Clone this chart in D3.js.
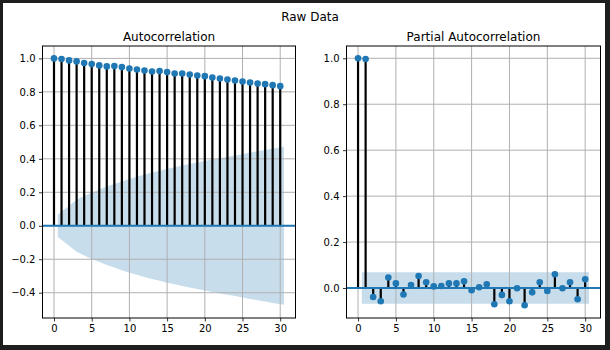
<!DOCTYPE html>
<html>
<head>
<meta charset="utf-8">
<script src="https://cdn.jsdelivr.net/npm/d3@7"></script>
<style>
  body { margin: 0; background: #1e1e1e; }
  svg { display: block; font-family: "DejaVu Sans", sans-serif; }
</style>
</head>
<body>
<div id="chart"></div>
<script>
// lags 0..30
const lags = d3.range(0, 31);

// autocorrelation values
const acfValues = [1.0, 0.996, 0.988, 0.982, 0.972, 0.966, 0.958, 0.952, 0.954, 0.948,
  0.94, 0.934, 0.928, 0.922, 0.924, 0.918, 0.91, 0.91, 0.904, 0.898,
  0.894, 0.886, 0.88, 0.874, 0.868, 0.862, 0.856, 0.85, 0.846, 0.84, 0.834];

// half width of the acf confidence band, lags 1..30
const acfBand = [0.067, 0.12, 0.155, 0.178, 0.198, 0.217, 0.235, 0.25, 0.265, 0.28,
  0.293, 0.306, 0.318, 0.329, 0.34, 0.35, 0.36, 0.369, 0.378, 0.387,
  0.396, 0.404, 0.412, 0.42, 0.428, 0.437, 0.445, 0.453, 0.462, 0.472];

// partial autocorrelation values
const pacfValues = [1.0, 0.997, -0.039, -0.058, 0.046, 0.02, -0.028, 0.013, 0.052, 0.025,
  0.007, 0.009, 0.02, 0.02, 0.029, -0.01, 0.003, 0.016, -0.071, -0.03,
  -0.058, -0.001, -0.075, -0.019, 0.025, -0.013, 0.06, -0.001, 0.025, -0.049, 0.038];

// pacf confidence band half width, lags 1..30
const pacfBand = [0.069, 0.069, 0.069, 0.069, 0.069, 0.069, 0.069, 0.069, 0.069, 0.069,
  0.069, 0.069, 0.069, 0.069, 0.069, 0.069, 0.069, 0.069, 0.069, 0.069,
  0.069, 0.069, 0.069, 0.069, 0.069, 0.069, 0.069, 0.069, 0.069, 0.069];

const xTicks = [0, 5, 10, 15, 20, 25, 30];
const acfYTicks = [-0.4, -0.2, 0.0, 0.2, 0.4, 0.6, 0.8, 1.0];
const pacfYTicks = [0.0, 0.2, 0.4, 0.6, 0.8, 1.0];

const W = 610, H = 350;
const blue = '#1f77b4';
const fmt = d => d3.format('.1f')(d).replace('-', '\u2212');

const svg = d3.select('#chart').append('svg')
  .attr('width', W)
  .attr('height', H);

// dark frame around the white figure
svg.append('rect').attr('width', W).attr('height', H).attr('fill', '#1e1e1e');
svg.append('rect').attr('x', 3).attr('y', 3).attr('width', 602).attr('height', 342).attr('fill', '#ffffff');

svg.append('text')
  .attr('x', 310).attr('y', 21)
  .attr('text-anchor', 'middle')
  .style('font-size', '12px')
  .style('fill', '#000')
  .text('Raw Data');

function drawPanel(opts) {
  const { left, right, top, bottom, values, band, yDomain, yTicks, title, id } = opts;

  const x = d3.scaleLinear().domain([-1.525, 32.025]).range([left, right]);
  const y = d3.scaleLinear().domain(yDomain).range([bottom, top]);

  const g = svg.append('g');

  g.append('clipPath').attr('id', id)
    .append('rect')
    .attr('x', left).attr('y', top)
    .attr('width', right - left).attr('height', bottom - top);

  const plot = g.append('g').attr('clip-path', `url(#${id})`);

  // confidence band, ends pushed out half a lag like statsmodels does
  const bandData = band.map((b, i) => {
    let lx = lags[i + 1];
    if (i === 0) lx -= 0.5;
    if (i === band.length - 1) lx += 0.5;
    return { x: lx, b: b };
  });
  plot.append('path')
    .datum(bandData)
    .attr('d', d3.area().x(d => x(d.x)).y0(d => y(-d.b)).y1(d => y(d.b)))
    .attr('fill', blue)
    .attr('fill-opacity', 0.25);

  // grid
  plot.selectAll('.vgrid').data(xTicks).join('line')
    .attr('x1', d => x(d)).attr('x2', d => x(d))
    .attr('y1', top).attr('y2', bottom)
    .attr('stroke', '#b0b0b0').attr('stroke-width', 1);
  plot.selectAll('.hgrid').data(yTicks).join('line')
    .attr('x1', left).attr('x2', right)
    .attr('y1', d => y(d)).attr('y2', d => y(d))
    .attr('stroke', '#b0b0b0').attr('stroke-width', 1);

  // stems
  plot.selectAll('.stem').data(values).join('line')
    .attr('x1', (d, i) => x(lags[i])).attr('x2', (d, i) => x(lags[i]))
    .attr('y1', y(0)).attr('y2', d => y(d))
    .attr('stroke', '#000').attr('stroke-width', 2.2);

  // zero line
  plot.append('line')
    .attr('x1', left).attr('x2', right)
    .attr('y1', y(0)).attr('y2', y(0))
    .attr('stroke', blue).attr('stroke-width', 2);

  // markers
  plot.selectAll('.dot').data(values).join('circle')
    .attr('cx', (d, i) => x(lags[i]))
    .attr('cy', d => y(d))
    .attr('r', 3.3)
    .attr('fill', blue);

  // axes
  const xAxis = g.append('g')
    .attr('transform', `translate(0,${bottom})`)
    .call(d3.axisBottom(x).tickValues(xTicks).tickSize(3.5).tickPadding(3.5).tickFormat(d3.format('d')));
  const yAxis = g.append('g')
    .attr('transform', `translate(${left},0)`)
    .call(d3.axisLeft(y).tickValues(yTicks).tickSize(3.5).tickPadding(3.5).tickFormat(fmt));

  [xAxis, yAxis].forEach(a => {
    a.select('.domain').remove();
    a.selectAll('.tick line').attr('stroke', '#000').attr('stroke-width', 0.8);
    a.selectAll('text')
      .style('font-family', '"DejaVu Sans", sans-serif')
      .style('font-size', '10px')
      .attr('fill', '#000');
  });

  // frame
  g.append('rect')
    .attr('x', left).attr('y', top)
    .attr('width', right - left).attr('height', bottom - top)
    .attr('fill', 'none')
    .attr('stroke', '#000')
    .attr('stroke-width', 1);

  g.append('text')
    .attr('x', (left + right) / 2).attr('y', top - 5)
    .attr('text-anchor', 'middle')
    .style('font-size', '12px')
    .style('fill', '#000')
    .text(title);
}

drawPanel({
  id: 'clip-acf',
  left: 42.5, right: 295.5, top: 46, bottom: 318,
  values: acfValues, band: acfBand,
  yDomain: [-0.551, 1.074], yTicks: acfYTicks,
  title: 'Autocorrelation'
});

drawPanel({
  id: 'clip-pacf',
  left: 346.5, right: 600.5, top: 46, bottom: 318,
  values: pacfValues, band: pacfBand,
  yDomain: [-0.1306, 1.0535], yTicks: pacfYTicks,
  title: 'Partial Autocorrelation'
});
</script>
</body>
</html>
